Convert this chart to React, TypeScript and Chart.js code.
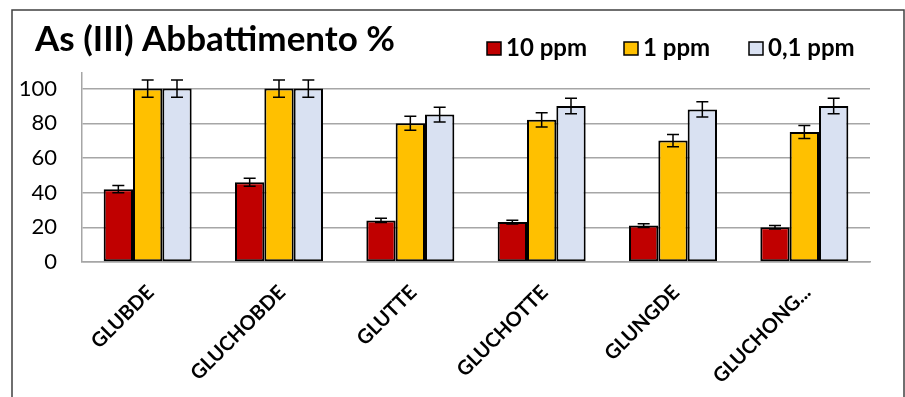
import React, { useEffect, useRef } from "react";
import { Chart, registerables } from "chart.js";
Chart.register(...registerables);

const categories = ["GLUBDE", "GLUCHOBDE", "GLUTTE", "GLUCHOTTE", "GLUNGDE", "GLUCHONG..."];
const seriesLabels = ["10 ppm", "1 ppm", "0,1 ppm"];
const seriesColors = ["#C00000", "#FFC000", "#D9E1F2"];
const values10 = [42, 46, 24, 23, 21, 20];
const values1 = [100, 100, 80, 82, 70, 75];
const values01 = [100, 100, 85, 90, 88, 90];
const err10 = [2.1, 2.3, 1.2, 1.15, 1.05, 1.0];
const err1 = [5, 5, 4, 4.1, 3.5, 3.75];
const err01 = [5, 5, 4.25, 4.5, 4.4, 4.5];
const yTicks = [0, 20, 40, 60, 80, 100];
const titleText = "As (III) Abbattimento %";

const errors = [err10, err1, err01];

const decorPlugin = {
  id: "decor",
  afterDatasetsDraw(chart: any) {
    const ctx = chart.ctx;
    const y = chart.scales.y;
    ctx.save();
    ctx.strokeStyle = "#000";
    ctx.lineWidth = 1.5;
    chart.data.datasets.forEach((ds: any, di: number) => {
      const meta = chart.getDatasetMeta(di);
      meta.data.forEach((bar: any, i: number) => {
        const v = ds.data[i];
        const e = errors[di][i];
        const top = y.getPixelForValue(v + e);
        const bot = y.getPixelForValue(v - e);
        const x = bar.x;
        ctx.beginPath();
        ctx.moveTo(x, top);
        ctx.lineTo(x, bot);
        ctx.moveTo(x - 6, top);
        ctx.lineTo(x + 6, top);
        ctx.moveTo(x - 6, bot);
        ctx.lineTo(x + 6, bot);
        ctx.stroke();
      });
    });
    ctx.restore();
  },
  afterDraw(chart: any) {
    const ctx = chart.ctx;
    const xs = chart.scales.x;
    ctx.save();
    // frame
    ctx.strokeStyle = "#404040";
    ctx.lineWidth = 1.5;
    ctx.strokeRect(12, 10, 892, 400);
    // title
    ctx.fillStyle = "#000";
    ctx.font = "bold 35px Lato";
    ctx.textBaseline = "alphabetic";
    ctx.textAlign = "left";
    ctx.fillText(titleText, 35, 51);
    // legend
    const legendX = [487, 624, 749];
    ctx.font = "bold 24px Lato";
    seriesLabels.forEach((lab, i) => {
      const bx = legendX[i];
      ctx.fillStyle = seriesColors[i];
      ctx.fillRect(bx, 42, 14, 13);
      ctx.strokeStyle = "#000";
      ctx.lineWidth = 1.5;
      ctx.strokeRect(bx, 42, 14, 13);
      ctx.fillStyle = "#000";
      ctx.fillText(lab, bx + 19, 56);
    });
    // x labels
    ctx.font = "bold 20px Lato";
    ctx.textAlign = "right";
    ctx.textBaseline = "middle";
    categories.forEach((c, i) => {
      const x = xs.getPixelForValue(i);
      ctx.save();
      ctx.translate(x + 3, 289);
      ctx.rotate(-Math.PI / 4);
      ctx.fillText(c, 0, 0);
      ctx.restore();
    });
    ctx.restore();
  },
};

export default function App() {
  const ref = useRef<HTMLCanvasElement>(null);
  useEffect(() => {
    document.body.style.margin = "0";
    const vals = [values10, values1, values01];
    const chart = new Chart(ref.current!, {
      type: "bar",
      data: {
        labels: categories,
        datasets: seriesLabels.map((l, i) => ({
          label: l,
          data: vals[i],
          backgroundColor: seriesColors[i],
          borderColor: "#000",
          borderWidth: 2,
          borderSkipped: false,
          categoryPercentage: 0.67,
          barPercentage: 1,
        })),
      },
      options: {
        responsive: false,
        animation: false,
        layout: { padding: { top: 73, right: 35, left: 0, bottom: 0 } },
        plugins: { legend: { display: false }, title: { display: false }, tooltip: { enabled: false } },
        scales: {
          x: {
            grid: { display: false },
            border: { display: true, color: "#A6A6A6", width: 1.5 },
            ticks: { display: false },
            afterFit(scale: any) {
              scale.height = 135;
            },
          },
          y: {
            min: 0,
            max: 109,
            afterBuildTicks(scale: any) {
              scale.ticks = yTicks.map((v) => ({ value: v }));
            },
            grid: { color: "#A6A6A6", lineWidth: 1.5, drawTicks: false },
            border: { display: true, color: "#A6A6A6", width: 1.5 },
            ticks: {
              color: "#000",
              padding: 25,
              font: { family: "Lato", size: 22 },
            },
            afterFit(scale: any) {
              scale.width = 82;
            },
          },
        },
      },
      plugins: [decorPlugin],
    });
    return () => chart.destroy();
  }, []);
  return (
    <div style={{ position: "absolute", left: 0, top: 0 }}>
      <canvas ref={ref} width={905} height={397} style={{ display: "block" }} />
    </div>
  );
}
